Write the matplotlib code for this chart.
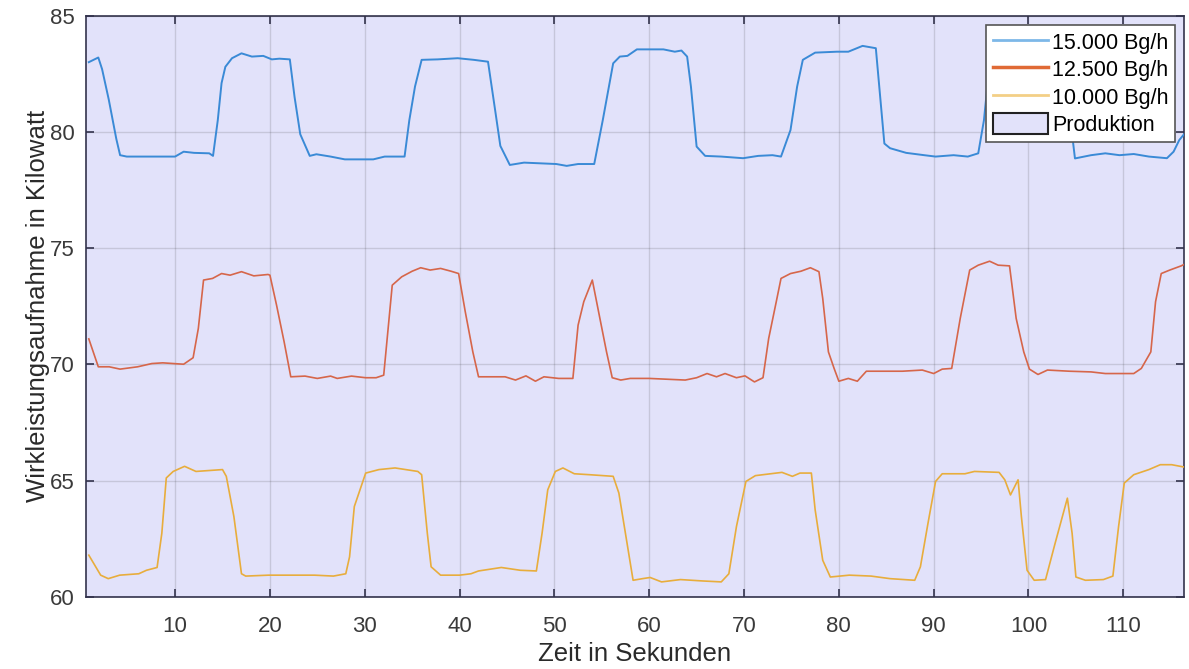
import matplotlib
matplotlib.use("Agg")
import matplotlib.pyplot as plt
from matplotlib.patches import Patch
from matplotlib.lines import Line2D

plt.rcParams['font.family'] = ['Liberation Sans', 'DejaVu Sans']

# ---- data ----
t_15000 = [0.9, 1.9, 2.3, 3.0, 3.8, 4.2, 4.9, 7.0, 10.0, 10.9,
           12.0, 13.6, 14.0, 14.5, 14.9, 15.3, 16.0, 17.0, 18.1, 19.3,
           20.2, 21.0, 22.1, 22.6, 23.2, 24.2, 24.9, 26.4, 27.9, 30.9,
           32.1, 34.2, 34.7, 35.3, 36.0, 37.7, 39.8, 41.5, 43.0, 43.8,
           44.3, 45.3, 46.8, 48.5, 50.2, 51.3, 52.5, 54.2, 55.1, 56.2,
           56.9, 57.7, 58.7, 61.5, 62.7, 63.4, 64.0, 64.4, 65.0, 65.9,
           67.6, 69.9, 71.5, 73.0, 73.9, 74.9, 75.6, 76.2, 77.5, 79.8,
           81.0, 82.5, 83.9, 84.2, 84.8, 85.4, 87.1, 89.0, 90.2, 92.1,
           93.6, 94.7, 95.3, 95.9, 96.5, 100.0, 104.3, 104.65, 104.9, 106.6,
           108.1, 109.6, 111.1, 112.7, 114.6, 115.3, 115.9, 116.4]
kw_15000 = [83.0, 83.2, 82.7, 81.4, 79.7, 79.0, 78.94, 78.94, 78.94, 79.15,
            79.1, 79.08, 78.97, 80.5, 82.1, 82.8, 83.17, 83.38, 83.24, 83.27,
            83.12, 83.15, 83.12, 81.5, 79.9, 78.97, 79.04, 78.94, 78.82, 78.82,
            78.94, 78.94, 80.5, 81.95, 83.1, 83.12, 83.17, 83.1, 83.02, 80.8,
            79.4, 78.58, 78.68, 78.65, 78.62, 78.54, 78.62, 78.62, 80.5, 82.95,
            83.24, 83.27, 83.55, 83.55, 83.45, 83.5, 83.24, 81.95, 79.37, 78.97,
            78.94, 78.87, 78.97, 79.0, 78.94, 80.08, 81.95, 83.1, 83.41, 83.45,
            83.45, 83.7, 83.6, 82.23, 79.5, 79.3, 79.1, 79.0, 78.94, 79.0,
            78.94, 79.08, 80.5, 82.95, 83.3, 83.4, 83.3, 79.72, 78.86, 79.0,
            79.08, 79.0, 79.05, 78.94, 78.87, 79.15, 79.65, 79.9]

t_12500 = [0.9, 1.9, 3.05, 4.2, 6.05, 7.55, 8.7, 10.9, 11.9, 12.45,
           13.0, 13.95, 14.9, 15.8, 17.0, 18.3, 19.8, 20.0, 20.7, 21.5,
           22.2, 23.7, 25.0, 26.4, 27.1, 28.6, 30.1, 31.2, 32.0, 32.4,
           32.9, 33.9, 35.0, 35.9, 36.9, 38.0, 39.1, 39.9, 40.6, 41.4,
           42.0, 43.3, 44.8, 45.9, 47.0, 48.0, 48.9, 50.45, 51.95, 52.5,
           53.1, 54.0, 54.8, 55.5, 56.1, 57.0, 58.0, 60.0, 63.8, 65.0,
           66.1, 67.1, 68.0, 69.2, 70.1, 71.1, 72.0, 72.6, 73.4, 73.9,
           74.9, 76.0, 77.0, 77.9, 78.3, 78.9, 79.5, 80.0, 81.0, 81.95,
           82.9, 84.4, 86.7, 88.8, 90.0, 90.9, 91.9, 92.8, 93.8, 94.7,
           95.9, 96.8, 98.0, 98.7, 99.5, 100.1, 101.0, 102.0, 104.3, 106.6,
           108.1, 110.0, 111.1, 111.9, 112.9, 113.4, 114.0, 114.9, 116.1, 116.4]
kw_12500 = [71.1, 69.9, 69.9, 69.8, 69.9, 70.04, 70.07, 70.01, 70.29, 71.55,
            73.63, 73.7, 73.91, 73.84, 73.99, 73.81, 73.87, 73.84, 72.55, 70.97,
            69.47, 69.5, 69.4, 69.5, 69.4, 69.5, 69.43, 69.43, 69.54, 71.26,
            73.41, 73.77, 74.01, 74.16, 74.06, 74.13, 74.01, 73.91, 72.27, 70.54,
            69.47, 69.47, 69.47, 69.33, 69.51, 69.28, 69.47, 69.4, 69.4, 71.69,
            72.7, 73.63, 71.98, 70.54, 69.43, 69.33, 69.4, 69.4, 69.33, 69.43,
            69.61, 69.47, 69.61, 69.43, 69.51, 69.25, 69.43, 71.12, 72.7, 73.7,
            73.91, 74.01, 74.16, 73.99, 72.84, 70.54, 69.83, 69.28, 69.4, 69.28,
            69.71, 69.71, 69.71, 69.76, 69.61, 69.8, 69.83, 71.98, 74.06, 74.27,
            74.44, 74.27, 74.24, 71.98, 70.54, 69.8, 69.57, 69.76, 69.71, 69.68,
            69.61, 69.61, 69.61, 69.83, 70.54, 72.7, 73.91, 74.06, 74.24, 74.3]

t_10000 = [0.9, 2.15, 2.95, 4.16, 6.17, 6.98, 8.1, 8.6, 9.07, 9.8,
           11.0, 12.2, 15.0, 15.4, 16.2, 17.0, 17.45, 19.87, 22.3, 24.7,
           26.7, 28.0, 28.4, 28.9, 30.1, 31.5, 33.2, 35.6, 36.0, 36.6,
           37.0, 38.0, 40.0, 41.2, 42.0, 44.4, 46.4, 48.1, 48.7, 49.3,
           50.1, 50.9, 52.1, 53.7, 56.2, 56.8, 58.3, 59.3, 60.1, 61.3,
           63.3, 65.65, 67.6, 68.4, 69.2, 70.2, 71.2, 74.0, 75.1, 75.9,
           77.1, 77.5, 78.3, 79.1, 81.1, 83.4, 85.4, 88.0, 88.6, 89.4,
           90.2, 90.9, 93.3, 94.3, 96.9, 97.5, 98.1, 98.9, 99.25, 99.85,
           100.6, 101.8, 102.8, 104.1, 104.6, 105.0, 106.0, 107.9, 108.9, 109.5,
           110.1, 111.1, 112.7, 113.9, 115.1, 116.4]
kw_10000 = [61.8, 60.94, 60.79, 60.94, 61.0, 61.15, 61.27, 62.74, 65.12, 65.4,
            65.62, 65.4, 65.48, 65.19, 63.46, 61.0, 60.9, 60.94, 60.94, 60.94,
            60.9, 61.0, 61.73, 63.89, 65.33, 65.48, 65.55, 65.4, 65.26, 62.74,
            61.3, 60.94, 60.94, 61.0, 61.12, 61.27, 61.15, 61.12, 62.74, 64.61,
            65.4, 65.55, 65.3, 65.26, 65.19, 64.47, 60.72, 60.79, 60.84, 60.65,
            60.75, 60.69, 60.65, 61.0, 63.03, 64.97, 65.22, 65.36, 65.19, 65.33,
            65.33, 63.75, 61.58, 60.86, 60.94, 60.9, 60.79, 60.72, 61.3, 63.17,
            64.97, 65.3, 65.3, 65.4, 65.36, 65.04, 64.39, 65.04, 63.46, 61.15,
            60.72, 60.75, 62.3, 64.25, 62.74, 60.86, 60.72, 60.75, 60.9, 63.03,
            64.9, 65.26, 65.48, 65.69, 65.69, 65.59]

labels = ["15.000 Bg/h", "12.500 Bg/h", "10.000 Bg/h", "Produktion"]
x_ticks = [10, 20, 30, 40, 50, 60, 70, 80, 90, 100, 110]
y_ticks = [60, 65, 70, 75, 80, 85]
production_span = (0.6, 116.4)

# ---- style ----
c_blue = '#3A8AD6'
c_red = '#D6664A'
c_yellow = '#E8AD3C'
c_fill = '#E2E2FA'
c_axis = '#33334d'

fig = plt.figure(figsize=(11.89, 6.69), dpi=100)
ax = fig.add_axes([0.0723, 0.1076, 0.9235, 0.869])

ax.axvspan(production_span[0], production_span[1], facecolor=c_fill,
           edgecolor='none', zorder=0)
ax.plot(t_15000, kw_15000, color=c_blue, lw=1.4, zorder=3)
ax.plot(t_12500, kw_12500, color=c_red, lw=1.2, zorder=3)
ax.plot(t_10000, kw_10000, color=c_yellow, lw=1.2, zorder=3)

ax.set_xlim(0.6, 116.4)
ax.set_ylim(60, 85)
ax.set_xticks(x_ticks)
ax.set_yticks(y_ticks)
ax.grid(True, color='#262626', alpha=0.15, lw=1.0)
ax.set_axisbelow(False)
ax.tick_params(direction='in', length=6, width=1.2, colors=c_axis,
               top=True, right=True, labelsize=16, labelcolor='#3a3a3a')
ax.tick_params(axis='x', pad=14)
ax.tick_params(axis='y', pad=8)
for s in ax.spines.values():
    s.set_color(c_axis)
    s.set_linewidth(1.2)

ax.set_xlabel("Zeit in Sekunden", fontsize=18.5, color='#2a2a2a', labelpad=3)
ax.set_ylabel("Wirkleistungsaufnahme in Kilowatt", fontsize=18.5,
              color='#2a2a2a', labelpad=0)

handles = [
    Line2D([0], [0], color='#7DB8E8', lw=2),
    Line2D([0], [0], color='#E06A35', lw=2.5),
    Line2D([0], [0], color='#F3CF86', lw=2),
    Patch(facecolor=c_fill, edgecolor='#222222', lw=1.5),
]
leg = ax.legend(handles, labels, loc='upper right', fontsize=15.5,
                frameon=True, fancybox=False, framealpha=1.0,
                edgecolor='#555555', handlelength=2.55, handleheight=1.1,
                borderpad=0.3, labelspacing=0.22, handletextpad=0.2,
                borderaxespad=0.42)
leg.get_frame().set_linewidth(1.2)
leg.set_zorder(5)

fig.savefig("out.png", dpi=100, facecolor='white')
